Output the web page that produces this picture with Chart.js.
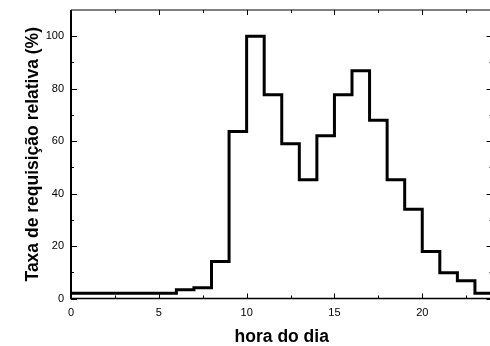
<!DOCTYPE html>
<html>
<head>
<meta charset="utf-8">
<script src="https://cdn.jsdelivr.net/npm/chart.js@4.4.1/dist/chart.umd.min.js"></script>
<style>
  html, body { margin:0; padding:0; background:#fff; overflow:hidden; }
  #wrap { width:494px; height:346px; }
</style>
</head>
<body>
<div id="wrap"><canvas id="c" width="494" height="346"></canvas></div>
<script>
// hour of day (start of each step) and relative request rate (%)
const hours = [0,1,2,3,4,5,6,7,8,9,10,11,12,13,14,15,16,17,18,19,20,21,22,23,24];
const rate  = [2,2,2,2,2,2,3.3,4.1,14.1,63.7,100,77.7,59,45.3,62.1,77.7,86.8,68,45.3,34,17.9,9.8,6.8,2,2];

const xMajor = [0,5,10,15,20];
const xMinor = [2.5,7.5,12.5,17.5,22.5];
const yMajor = [0,20,40,60,80,100];
const yMinor = [10,30,50,70,90];

const FONT = '"Liberation Sans", Arial, Helvetica, sans-serif';

// frame + inward ticks on all four sides
const frameTicks = {
  id: 'frameTicks',
  afterDraw(chart) {
    const { ctx, chartArea: a, scales: { x, y } } = chart;
    ctx.save();
    ctx.strokeStyle = '#000';
    // frame
    ctx.lineWidth = 2;
    ctx.beginPath(); ctx.moveTo(a.left, a.top); ctx.lineTo(a.left, a.bottom); ctx.stroke();
    ctx.lineWidth = 1.5;
    ctx.beginPath(); ctx.moveTo(a.left - 1, a.bottom); ctx.lineTo(a.right, a.bottom); ctx.stroke();
    ctx.lineWidth = 1;
    ctx.beginPath(); ctx.moveTo(a.left, a.top); ctx.lineTo(a.right, a.top); ctx.lineTo(a.right, a.bottom); ctx.stroke();
    // ticks
    ctx.lineWidth = 1;
    const xt = (vals, len) => vals.forEach(v => {
      const px = Math.round(x.getPixelForValue(v)) + 0.5;
      ctx.beginPath(); ctx.moveTo(px, a.bottom); ctx.lineTo(px, a.bottom - len); ctx.stroke();
      ctx.beginPath(); ctx.moveTo(px, a.top); ctx.lineTo(px, a.top + len); ctx.stroke();
    });
    const yt = (vals, len) => vals.forEach(v => {
      const py = Math.round(y.getPixelForValue(v)) + 0.5;
      ctx.beginPath(); ctx.moveTo(a.left, py); ctx.lineTo(a.left + len, py); ctx.stroke();
      ctx.beginPath(); ctx.moveTo(a.right, py); ctx.lineTo(a.right - len, py); ctx.stroke();
    });
    xt(xMajor, 5); xt(xMinor, 3);
    yt(yMajor, 6); yt(yMinor, 3);
    ctx.restore();
  }
};

new Chart(document.getElementById('c'), {
  type: 'line',
  data: {
    datasets: [{
      data: hours.map((h, i) => ({ x: h, y: rate[i] })),
      borderColor: '#000',
      borderWidth: 3,
      pointRadius: 0,
      stepped: true,
      fill: false
    }]
  },
  options: {
    responsive: false,
    animation: false,
    layout: { padding: { top: 10, right: 1.5, left: 0, bottom: 0 } },
    plugins: { legend: { display: false }, tooltip: { enabled: false } },
    scales: {
      x: {
        type: 'linear', min: 0, max: 24,
        grid: { display: false, drawTicks: false },
        border: { display: false },
        afterBuildTicks: s => { s.ticks = xMajor.map(v => ({ value: v })); },
        afterFit: s => { s.height = 47.5; s.paddingLeft = 0; s.paddingRight = 0; },
        ticks: { color: '#000', padding: 8, maxRotation: 0, font: { family: FONT, size: 11 } },
        title: { display: true, text: 'hora do dia', color: '#000',
                 padding: { top: 0, bottom: 0 }, font: { family: FONT, size: 17.5, weight: 'bold', lineHeight: 1 } }
      },
      y: {
        min: 0, max: 110,
        grid: { display: false, drawTicks: false },
        border: { display: false },
        afterBuildTicks: s => { s.ticks = yMajor.map(v => ({ value: v })); },
        afterFit: s => { s.width = 71; s.paddingTop = 0; s.paddingBottom = 0; },
        ticks: { color: '#000', padding: 7, font: { family: FONT, size: 11 } },
        title: { display: true, text: 'Taxa de requisição relativa (%)', color: '#000',
                 padding: { top: 24, bottom: 0 }, font: { family: FONT, size: 17.5, weight: 'bold', lineHeight: 1 } }
      }
    }
  },
  plugins: [frameTicks]
});
</script>
</body>
</html>
